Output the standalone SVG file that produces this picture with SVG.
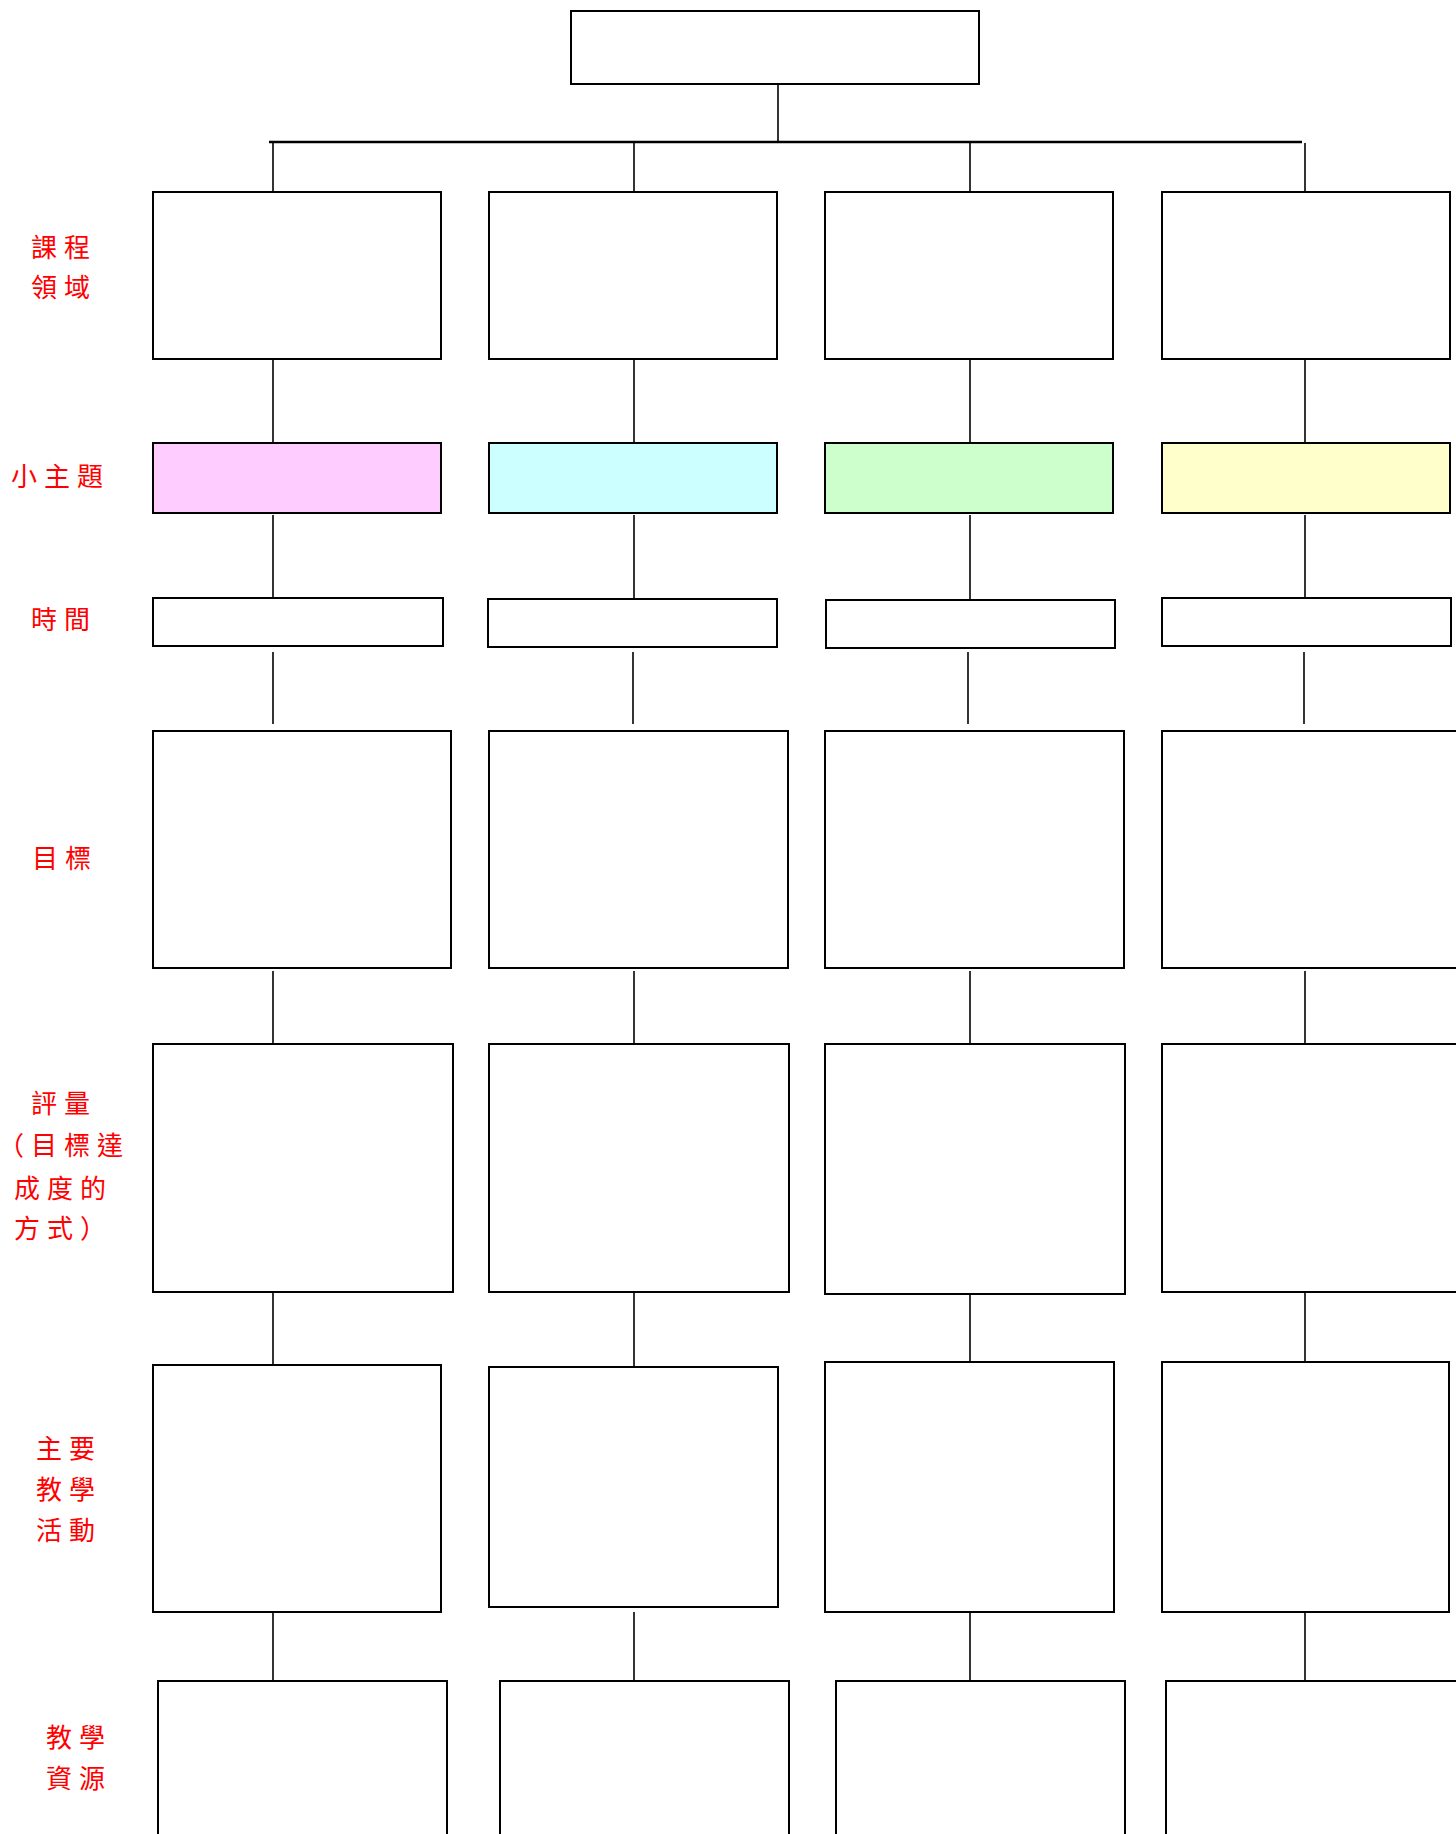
<svg xmlns="http://www.w3.org/2000/svg" width="1456" height="1834" viewBox="0 0 1456 1834">
<style>
.box{fill:#fff;stroke:#000;stroke-width:2}
.pink{fill:#FFCCFF}.cyan{fill:#CCFFFF}.green{fill:#CCFFCC}.yellow{fill:#FFFFCC}
.ln{stroke:#000;stroke-width:1.6;fill:none}
.bus{stroke:#000;stroke-width:2.5;fill:none}
.lbl{fill:#FF0000;font-family:"Noto Sans CJK TC","Noto Sans CJK SC",sans-serif;font-size:26px;letter-spacing:7px}
</style>
<rect width="1456" height="1834" fill="#fff"/>
<g id="connectors">
<line class="ln" x1="778" y1="84" x2="778" y2="142"/>
<line class="bus" x1="269" y1="142" x2="1302" y2="142"/>
<g id="c-col1">
<line class="ln" x1="273" y1="142" x2="273" y2="192"/>
<line class="ln" x1="273" y1="359" x2="273" y2="443"/>
<line class="ln" x1="273" y1="515" x2="273" y2="599"/>
<line class="ln" x1="273" y1="652" x2="273" y2="724"/>
<line class="ln" x1="273" y1="971" x2="273" y2="1043"/>
<line class="ln" x1="273" y1="1292" x2="273" y2="1365"/>
<line class="ln" x1="273" y1="1612" x2="273" y2="1685"/>
</g>
<g id="c-col2">
<line class="ln" x1="634" y1="142" x2="634" y2="192"/>
<line class="ln" x1="634" y1="359" x2="634" y2="443"/>
<line class="ln" x1="634" y1="515" x2="634" y2="599"/>
<line class="ln" x1="633" y1="652" x2="633" y2="724"/>
<line class="ln" x1="634" y1="971" x2="634" y2="1043"/>
<line class="ln" x1="634" y1="1292" x2="634" y2="1367"/>
<line class="ln" x1="634" y1="1612" x2="634" y2="1685"/>
</g>
<g id="c-col3">
<line class="ln" x1="970" y1="142" x2="970" y2="192"/>
<line class="ln" x1="970" y1="359" x2="970" y2="443"/>
<line class="ln" x1="970" y1="515" x2="970" y2="600"/>
<line class="ln" x1="968" y1="652" x2="968" y2="724"/>
<line class="ln" x1="970" y1="971" x2="970" y2="1043"/>
<line class="ln" x1="970" y1="1294" x2="970" y2="1365"/>
<line class="ln" x1="970" y1="1612" x2="970" y2="1685"/>
</g>
<g id="c-col4">
<line class="ln" x1="1305" y1="143" x2="1305" y2="192"/>
<line class="ln" x1="1305" y1="359" x2="1305" y2="443"/>
<line class="ln" x1="1305" y1="515" x2="1305" y2="599"/>
<line class="ln" x1="1304" y1="652" x2="1304" y2="724"/>
<line class="ln" x1="1305" y1="971" x2="1305" y2="1043"/>
<line class="ln" x1="1305" y1="1292" x2="1305" y2="1365"/>
<line class="ln" x1="1305" y1="1612" x2="1305" y2="1685"/>
</g>
</g>
<g id="root"><rect class="box" x="571" y="11" width="408" height="73"/></g>
<g id="domain-1"><rect class="box" x="153" y="192" width="288" height="167"/></g>
<g id="domain-2"><rect class="box" x="489" y="192" width="288" height="167"/></g>
<g id="domain-3"><rect class="box" x="825" y="192" width="288" height="167"/></g>
<g id="domain-4"><rect class="box" x="1162" y="192" width="288" height="167"/></g>
<g id="topic-1"><rect class="box pink" x="153" y="443" width="288" height="70"/></g>
<g id="topic-2"><rect class="box cyan" x="489" y="443" width="288" height="70"/></g>
<g id="topic-3"><rect class="box green" x="825" y="443" width="288" height="70"/></g>
<g id="topic-4"><rect class="box yellow" x="1162" y="443" width="288" height="70"/></g>
<g id="time-1"><rect class="box" x="153" y="598" width="290" height="48"/></g>
<g id="time-2"><rect class="box" x="488" y="599" width="289" height="48"/></g>
<g id="time-3"><rect class="box" x="826" y="600" width="289" height="48"/></g>
<g id="time-4"><rect class="box" x="1162" y="598" width="289" height="48"/></g>
<g id="goal-1"><rect class="box" x="153" y="731" width="298" height="237"/></g>
<g id="goal-2"><rect class="box" x="489" y="731" width="299" height="237"/></g>
<g id="goal-3"><rect class="box" x="825" y="731" width="299" height="237"/></g>
<g id="goal-4"><rect class="box" x="1162" y="731" width="299" height="237"/></g>
<g id="assess-1"><rect class="box" x="153" y="1044" width="300" height="248"/></g>
<g id="assess-2"><rect class="box" x="489" y="1044" width="300" height="248"/></g>
<g id="assess-3"><rect class="box" x="825" y="1044" width="300" height="250"/></g>
<g id="assess-4"><rect class="box" x="1162" y="1044" width="300" height="248"/></g>
<g id="activity-1"><rect class="box" x="153" y="1365" width="288" height="247"/></g>
<g id="activity-2"><rect class="box" x="489" y="1367" width="289" height="240"/></g>
<g id="activity-3"><rect class="box" x="825" y="1362" width="289" height="250"/></g>
<g id="activity-4"><rect class="box" x="1162" y="1362" width="287" height="250"/></g>
<g id="resource-1"><rect class="box" x="158" y="1681" width="289" height="220"/></g>
<g id="resource-2"><rect class="box" x="500" y="1681" width="289" height="220"/></g>
<g id="resource-3"><rect class="box" x="836" y="1681" width="289" height="220"/></g>
<g id="resource-4"><rect class="box" x="1166" y="1681" width="291" height="220"/></g>
<g id="labels">
<text class="lbl" x="31" y="257">課程</text>
<text class="lbl" x="31" y="297">領域</text>
<text class="lbl" x="11" y="486">小主題</text>
<text class="lbl" x="31" y="629">時間</text>
<text class="lbl" x="32" y="868">目標</text>
<text class="lbl" x="31" y="1113">評量</text>
<text class="lbl" x="-2" y="1155">（目標達</text>
<text class="lbl" x="14" y="1198">成度的</text>
<text class="lbl" x="14" y="1238">方式）</text>
<text class="lbl" x="36" y="1458">主要</text>
<text class="lbl" x="36" y="1499">教學</text>
<text class="lbl" x="36" y="1540">活動</text>
<text class="lbl" x="46" y="1747">教學</text>
<text class="lbl" x="46" y="1788">資源</text>
</g>
</svg>
